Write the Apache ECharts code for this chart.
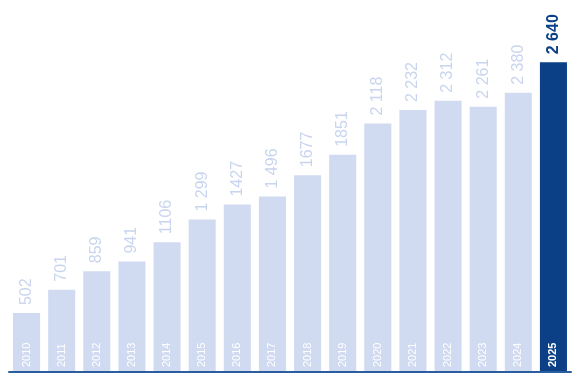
<!DOCTYPE html>
<html>
<head>
<meta charset="utf-8">
<script src="https://cdn.jsdelivr.net/npm/echarts@6/dist/echarts.min.js"></script>
<style>
html,body{margin:0;padding:0;background:#fff;}
#c{width:578px;height:383px;}
</style>
</head>
<body>
<div id="c"></div>
<script>
const years = ['2010','2011','2012','2013','2014','2015','2016','2017','2018','2019','2020','2021','2022','2023','2024','2025'];
const values = [502,701,859,941,1106,1299,1427,1496,1677,1851,2118,2232,2312,2261,2380,2640];
const valueLabels = ['502','701','859','941','1106','1 299','1427','1 496','1677','1851','2 118','2 232','2 312','2 261','2 380','2 640'];

const LIGHT = '#d0daf0';
const DARK = '#0b3f86';
const last = years.length - 1;

const chart = echarts.init(document.getElementById('c'));
chart.setOption({
  animation: false,
  grid: {left: 9, right: 7, top: 20, bottom: 11, containLabel: false},
  xAxis: {
    type: 'category',
    data: years,
    axisLine: {show: true, lineStyle: {color: '#2a5e9e', width: 2}},
    axisTick: {show: false},
    axisLabel: {
      inside: true,
      rotate: 90,
      margin: 5,
      fontFamily: 'Liberation Sans, Arial, sans-serif',
      fontSize: 11,
      color: '#ffffff',
      formatter: function (v, i) { return i === last ? '{b|' + v + '}' : v; },
      rich: {b: {fontWeight: 'bold', fontSize: 11, color: '#ffffff', fontFamily: 'Liberation Sans, Arial, sans-serif'}}
    },
    z: 10
  },
  yAxis: {
    type: 'value',
    min: 0,
    max: 3000,
    show: false,
    splitLine: {show: false}
  },
  series: [{
    type: 'bar',
    barCategoryGap: '23%',
    data: values.map((v, i) => ({
      value: v,
      itemStyle: {color: i === last ? DARK : LIGHT},
      label: {
        color: i === last ? DARK : '#c9d5ee',
        fontWeight: i === last ? 'bold' : 'normal'
      }
    })),
    label: {
      show: true,
      position: 'top',
      rotate: 90,
      align: 'left',
      verticalAlign: 'middle',
      distance: 8,
      fontSize: 16,
      fontFamily: 'Liberation Sans, Arial, sans-serif',
      formatter: p => valueLabels[p.dataIndex]
    }
  }]
});
</script>
</body>
</html>
